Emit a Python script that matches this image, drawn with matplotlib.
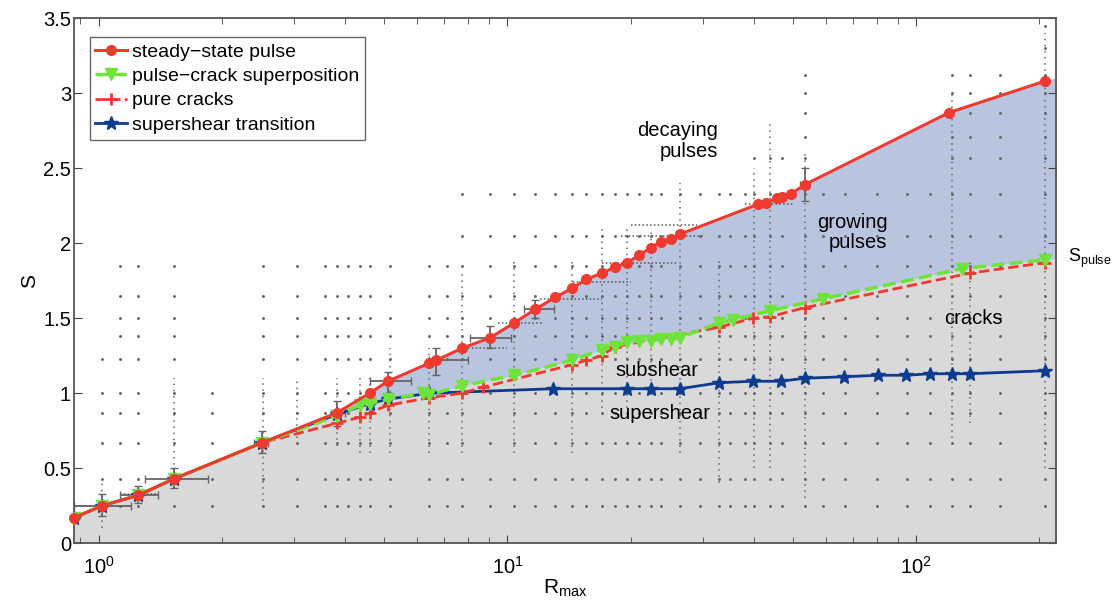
import numpy as np
import matplotlib
matplotlib.use("Agg")
from matplotlib import pyplot as plt

plt.rcParams['font.family'] = ['Liberation Sans', 'DejaVu Sans']
plt.rcParams['mathtext.fontset'] = 'custom'
plt.rcParams['mathtext.rm'] = 'Liberation Sans'
plt.rcParams['mathtext.it'] = 'Liberation Sans:italic'

# steady-state pulse (red, solid, circles)
x_pulse = [0.87, 1.02, 1.25, 1.53, 2.51, 3.83, 4.6, 5.1, 6.43, 6.7, 7.74, 9.07, 10.4, 11.7,
           13.1, 14.4, 15.6, 17.0, 18.3, 19.6, 21.0, 22.4, 23.7, 25.1, 26.4, 41.0, 43.0,
           45.6, 47.0, 49.5, 53.3, 120, 206]
s_pulse = [0.17, 0.25, 0.32, 0.43, 0.67, 0.87, 1.0, 1.08, 1.2, 1.22, 1.3, 1.37, 1.47, 1.56,
           1.64, 1.70, 1.76, 1.80, 1.84, 1.87, 1.92, 1.97, 2.01, 2.03, 2.06, 2.26, 2.27,
           2.30, 2.31, 2.33, 2.39, 2.87, 3.08]

# pulse-crack superposition (green, dashed, triangles)
x_sup = [0.87, 1.02, 1.25, 1.53, 2.51, 3.83, 4.35, 4.6, 5.1, 6.2, 6.43, 7.74, 10.4, 14.4,
         17.0, 18.3, 19.6, 21.0, 22.4, 23.7, 25.1, 26.4, 32.9, 35.7, 43.9, 59.2, 129, 206]
s_sup = [0.17, 0.25, 0.32, 0.43, 0.67, 0.85, 0.92, 0.93, 0.96, 1.0, 0.99, 1.05, 1.12, 1.22,
         1.29, 1.31, 1.34, 1.35, 1.35, 1.36, 1.36, 1.37, 1.47, 1.49, 1.55, 1.63, 1.83, 1.89]

# pure cracks (red, dashed, plus)
x_crack = [0.87, 1.02, 1.25, 1.53, 2.51, 3.83, 4.35, 4.6, 5.1, 6.43, 7.74, 8.7, 14.4, 15.6,
           17.0, 18.3, 32.9, 39.8, 43.9, 53.3, 135, 206]
s_crack = [0.17, 0.25, 0.32, 0.43, 0.67, 0.80, 0.84, 0.87, 0.92, 0.97, 1.0, 1.04, 1.19, 1.22,
           1.25, 1.31, 1.44, 1.50, 1.51, 1.57, 1.80, 1.87]

# supershear transition (blue, solid, stars)
x_ss = [0.87, 1.02, 1.25, 1.53, 2.51, 3.83, 4.6, 5.1, 6.43, 12.9, 19.6, 22.4, 26.4, 32.9,
        39.8, 46.6, 53.3, 66.7, 80.4, 94.6, 108, 122, 135, 206]
s_ss = [0.17, 0.25, 0.32, 0.43, 0.67, 0.86, 0.93, 0.96, 1.0, 1.03, 1.03, 1.03, 1.03, 1.07,
        1.08, 1.08, 1.10, 1.11, 1.12, 1.12, 1.13, 1.13, 1.13, 1.15]

# error bars on some pulse points
eb_x = [1.02, 1.25, 1.53, 2.51, 3.83, 5.1, 6.7, 9.07, 11.7, 53.3]
eb_s = [0.25, 0.32, 0.43, 0.67, 0.87, 1.08, 1.22, 1.37, 1.56, 2.39]
eb_xlo = [0.87, 1.13, 1.3, 2.4, 3.7, 4.6, 6.43, 8.1, 11.0, 52.0]
eb_xhi = [1.2, 1.4, 1.85, 2.6, 4.0, 5.8, 8.0, 10.2, 13.0, 54.5]
eb_slo = [0.18, 0.27, 0.37, 0.6, 0.78, 1.0, 1.12, 1.3, 1.5, 2.28]
eb_shi = [0.33, 0.38, 0.5, 0.75, 0.95, 1.14, 1.3, 1.45, 1.62, 2.5]

# simulation grid (sparse dots)
dot_rows = [0.25, 0.43, 0.67, 0.87, 1.0, 1.23, 1.38, 1.5, 1.65, 1.85, 2.05,
            2.33, 2.57, 2.71, 2.87, 3.0, 3.12, 3.3, 3.45]
dot_cols = [1.02, 1.13, 1.25, 1.53, 1.89, 2.52, 3.05, 3.57, 3.83, 4.07, 4.35, 4.6, 5.16,
            6.43, 7.1, 7.74, 9.07, 10.4, 11.7, 13.1, 14.4, 15.6, 17.0, 18.3, 19.6, 21.0,
            22.4, 23.7, 26.4, 29.5, 32.9, 35.0, 38.0, 40.0, 43.9, 47.0, 53.3, 59.0, 67.0,
            80.0, 95.0, 108, 122, 135, 160, 206]
dot_tops = [1.3, 1.85, 1.85, 1.85, 1.05, 1.85, 1.85, 1.85, 1.85, 1.85, 1.85, 1.85, 1.85,
            1.85, 1.85, 2.33, 2.33, 2.33, 2.33, 2.33, 2.33, 2.33, 2.33, 2.33, 2.33, 2.33,
            2.33, 2.33, 2.33, 2.33, 2.33, 2.33, 2.33, 2.57, 2.57, 2.57, 3.12, 2.38, 2.38,
            2.38, 2.38, 2.38, 3.12, 3.12, 3.12, 3.45]

# dense dotted columns
dense_x = [1.02, 1.53, 2.52, 3.05, 3.83, 4.35, 4.6, 5.16, 6.43, 7.74, 10.4, 14.4, 17.0,
           19.6, 22.4, 26.4, 32.9, 40.0, 43.9, 53.3, 122, 135, 206]
dense_lo = [0.1, 0.4, 0.24, 0.7, 0.65, 0.6, 0.6, 0.6, 0.6, 0.6, 0.6, 0.6, 0.9, 0.9, 1.0,
            0.6, 0.4, 0.5, 0.5, 0.3, 0.7, 0.8, 0.5]
dense_hi = [0.4, 1.1, 1.1, 1.1, 1.1, 1.1, 1.1, 1.3, 1.3, 1.8, 1.9, 1.9, 2.1, 2.1, 2.1,
            2.4, 1.9, 2.5, 2.8, 2.6, 3.0, 1.9, 3.4]

# dense dotted rows near the pulse curve
hrow_s = [0.25, 0.33, 1.3, 1.47, 1.63, 1.74, 1.87, 2.05, 2.12, 2.26]
hrow_lo = [0.87, 1.13, 8.0, 9.5, 12.0, 14.5, 17.0, 19.0, 20.0, 38.0]
hrow_hi = [1.2, 1.4, 10.0, 12.3, 17.0, 20.0, 26.0, 30.0, 29.0, 50.0]

xmin, xmax = 0.87, 220

red = '#ef3b2f'
green = '#6ee33a'
navy = '#0d3b8e'


def on_grid(xs, ss, grid):
    lx = np.log10(xs)
    lg = np.log10(grid)
    out = np.interp(lg, lx, ss)
    slope = (ss[-1] - ss[-2]) / (lx[-1] - lx[-2])
    return np.where(lg > lx[-1], ss[-1] + slope * (lg - lx[-1]), out)


fig = plt.figure(figsize=(11.19, 6.07), dpi=100)
ax = fig.add_axes([0.066, 0.105, 0.878, 0.865])
ax.set_xscale('log')

grid = np.unique(np.concatenate([x_pulse, x_sup, [xmin, xmax]]))
top = on_grid(np.array(x_pulse), np.array(s_pulse), grid)
mid = on_grid(np.array(x_sup), np.array(s_sup), grid)
ax.fill_between(grid, 0, mid, color='#d9d9d9', lw=0, zorder=0)
ax.fill_between(grid, mid, top, color='#b9c5df', lw=0, zorder=0)

# dots of the simulation grid
px, py = [], []
for c, t in zip(dot_cols, dot_tops):
    for r in dot_rows:
        if r <= t:
            px.append(c)
            py.append(r)
ax.plot(px, py, ls='none', marker='.', ms=2.2, color='#666666', zorder=1)
ax.vlines(dense_x, dense_lo, dense_hi, colors='#666666', lw=1.1,
          linestyles=(0, (1, 3)), zorder=1)
ax.hlines(hrow_s, hrow_lo, hrow_hi, colors='#555555', lw=1.1,
          linestyles=(0, (1, 1.5)), zorder=1)

xe = [np.array(eb_x) - np.array(eb_xlo), np.array(eb_xhi) - np.array(eb_x)]
se = [np.array(eb_s) - np.array(eb_slo), np.array(eb_shi) - np.array(eb_s)]
ax.errorbar(eb_x, eb_s, xerr=xe, yerr=se, fmt='none', ecolor='#666666',
            elinewidth=1.3, capsize=3, zorder=2)

ax.plot(x_ss, s_ss, '-', color=navy, lw=2, marker='*', ms=10,
        label='supershear transition', zorder=3)
ax.plot(x_crack, s_crack, '--', color=red, lw=2, marker='+', ms=9, mew=2,
        label='pure cracks', zorder=4)
ax.plot(x_sup, s_sup, '--', color=green, lw=2.5, marker='v', ms=9,
        label='pulse-crack superposition', zorder=5)
ax.plot(x_pulse, s_pulse, '-', color=red, lw=2.2, marker='o', ms=7,
        label='steady-state pulse', zorder=6, clip_on=False)

h, l = ax.get_legend_handles_labels()
order = [3, 2, 1, 0]
leg = ax.legend([h[i] for i in order], [l[i].replace('-', '\u2212') for i in order],
                loc='upper left', bbox_to_anchor=(0.016, 0.964), borderaxespad=0,
                fontsize=14, fancybox=False, framealpha=1, edgecolor='#666666',
                handlelength=1.65, handletextpad=0.25, labelspacing=0.35,
                borderpad=0.3)
leg.get_frame().set_linewidth(1.0)

ax.text(32.7, 2.68, 'decaying\npulses', ha='right', va='center', fontsize=14.5,
        linespacing=1.1)
ax.text(85, 2.07, 'growing\npulses', ha='right', va='center', fontsize=14.5,
        linespacing=1.1)
ax.text(138, 1.5, 'cracks', ha='center', va='center', fontsize=14.5)
ax.text(23.2, 1.153, 'subshear', ha='center', va='center', fontsize=14.5)
ax.text(23.6, 0.867, 'supershear', ha='center', va='center', fontsize=14.5)
ax.text(1.012, 1.9, r'S$_{\mathrm{pulse}}$', transform=ax.get_yaxis_transform(),
        ha='left', va='center', fontsize=13)

ax.set_xlim(xmin, xmax)
ax.set_ylim(0, 3.5)
ax.set_yticks([0, 0.5, 1, 1.5, 2, 2.5, 3, 3.5])
ax.set_yticklabels(['0', '0.5', '1', '1.5', '2', '2.5', '3', '3.5'])
ax.tick_params(which='both', direction='in', top=True, right=True, labelsize=14.5,
               color='#444444')
ax.tick_params(axis='y', pad=2)
ax.tick_params(axis='x', pad=9)
ax.tick_params(which='major', length=6)
ax.tick_params(which='minor', length=4)
for sp in ax.spines.values():
    sp.set_color('#555555')
    sp.set_linewidth(1.3)

ax.set_xlabel(r'R$_{\mathrm{max}}$', fontsize=15)
ax.set_ylabel('S', fontsize=15)
ax.xaxis.set_label_coords(0.5, -0.065)
ax.yaxis.set_label_coords(-0.035, 0.5)

fig.savefig('out.png', dpi=100)
